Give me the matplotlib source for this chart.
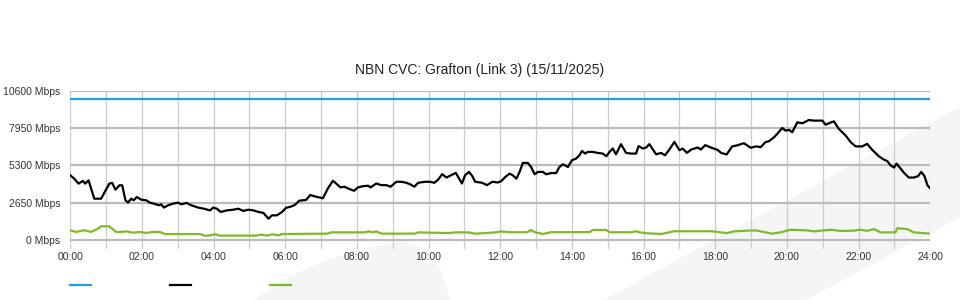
import matplotlib
matplotlib.use("Agg")
import matplotlib.pyplot as plt
from matplotlib.lines import Line2D
from matplotlib.patches import Polygon

plt.rcParams["font.family"] = ["Liberation Sans", "DejaVu Sans"]

title = "NBN CVC: Grafton (Link 3) (15/11/2025)"

# capacity line (Mbps)
capacity_hours = [0, 24]
capacity_mbps = [10000, 10000]

# black series: hours of day, Mbps
black_hours = [
    0.0, 0.11, 0.23, 0.35, 0.42, 0.51, 0.67, 0.86, 1.09, 1.17, 1.26, 1.37, 1.45,
    1.54, 1.61, 1.70, 1.77, 1.86, 1.98, 2.12, 2.22, 2.33, 2.48, 2.54, 2.61, 2.73,
    2.87, 3.01, 3.10, 3.24, 3.38, 3.57, 3.73, 3.90, 3.99, 4.09, 4.20, 4.37, 4.55,
    4.69, 4.83, 4.97, 5.11, 5.25, 5.39, 5.53, 5.63, 5.77, 5.91, 6.02, 6.16, 6.27,
    6.39, 6.58, 6.70, 6.86, 7.05, 7.19, 7.33, 7.42, 7.54, 7.65, 7.75, 7.92, 8.03,
    8.17, 8.31, 8.38, 8.54, 8.68, 8.82, 8.94, 9.10, 9.24, 9.38, 9.48, 9.60, 9.71,
    9.90, 10.04, 10.16, 10.27, 10.38, 10.50, 10.63, 10.76, 10.85, 10.93, 11.02,
    11.13, 11.22, 11.30, 11.49, 11.63, 11.78, 11.93, 12.03, 12.14, 12.26, 12.35,
    12.45, 12.54, 12.63, 12.77, 12.86, 12.96, 13.05, 13.19, 13.28, 13.42, 13.56,
    13.65, 13.75, 13.89, 14.00, 14.12, 14.21, 14.28, 14.37, 14.44, 14.58, 14.72,
    14.86, 14.96, 15.05, 15.14, 15.23, 15.37, 15.51, 15.65, 15.79, 15.86, 15.98,
    16.07, 16.16, 16.26, 16.35, 16.49, 16.60, 16.72, 16.86, 17.00, 17.09, 17.21,
    17.33, 17.51, 17.60, 17.72, 17.88, 18.06, 18.17, 18.32, 18.47, 18.61, 18.80,
    18.99, 19.13, 19.27, 19.40, 19.50, 19.64, 19.73, 19.87, 19.96, 20.06, 20.15,
    20.29, 20.43, 20.61, 20.75, 20.99, 21.08, 21.17, 21.31, 21.45, 21.64, 21.78,
    21.92, 22.10, 22.24, 22.38, 22.57, 22.71, 22.80, 22.89, 22.99, 23.06, 23.17,
    23.27, 23.40, 23.54, 23.66, 23.75, 23.84, 23.92, 24.0,
]
black_mbps = [
    4590, 4350, 4000, 4190, 4000, 4230, 2930, 2930, 4000, 4050, 3570, 3880, 3880,
    2820, 2650, 2930, 2820, 3050, 2860, 2820, 2650, 2580, 2460, 2530, 2300, 2460,
    2580, 2650, 2530, 2630, 2460, 2300, 2220, 2100, 2300, 2220, 1990, 2100, 2150,
    2220, 2060, 2150, 2100, 1990, 1920, 1510, 1750, 1750, 1990, 2280, 2370, 2490,
    2790, 2840, 3190, 3070, 2960, 3660, 4200, 4010, 3730, 3780, 3660, 3490, 3730,
    3820, 3850, 3730, 4010, 3890, 3890, 3780, 4130, 4130, 4060, 3960, 3780, 4060,
    4130, 4130, 4060, 4290, 4670, 4430, 4600, 4760, 4360, 4010, 4600,
    4830, 4530, 4130, 4060, 3890, 4130, 4080, 4180, 4470, 4710, 4590,
    4350, 4830, 5470, 5470, 5180, 4660, 4830, 4830, 4660, 4750, 4750,
    5180, 5370, 5180, 5660, 5780, 6010, 6320, 6130, 6250, 6250, 6180,
    6130, 5940, 6250, 6490, 6080, 6800, 6180, 6130, 6130, 6660, 6490,
    6560, 6800, 6420, 6080, 6180, 6010, 6420, 6960, 6370, 6490, 6180,
    6420, 6560, 6420, 6730, 6560, 6400, 6170, 6070, 6640, 6710, 6870,
    6540, 6640, 6590, 6940, 7010, 7290, 7530, 7950, 7760, 7810, 7650,
    8350, 8280, 8510, 8470, 8470, 8180, 8280, 8420, 7880, 7410, 6940,
    6640, 6640, 6820, 6400, 5930, 5700, 5600, 5300, 5140, 5420, 5070,
    4760, 4430, 4430, 4530, 4830, 4530, 3890, 3660,
]

# green series: hours of day, Mbps
green_hours = [
    0.0, 0.16, 0.39, 0.58, 0.77, 0.86, 1.09, 1.28, 1.42, 1.56, 1.75, 1.94, 2.12,
    2.31, 2.50, 2.64, 3.62, 3.76, 3.90, 4.04, 4.18, 5.21, 5.30, 5.49, 5.63, 5.81,
    5.91, 7.19, 7.28, 8.21, 8.33, 8.45, 8.54, 8.68, 9.62, 9.71, 10.55, 10.74,
    11.11, 11.30, 11.58, 11.86, 12.03, 12.30, 12.75, 12.86, 12.96, 13.19, 13.42,
    14.50, 14.58, 14.96, 15.05, 15.65, 15.79, 15.88, 16.07, 16.50, 16.86, 17.90,
    18.15, 18.33, 18.52, 18.89, 19.13, 19.27, 19.59, 19.82, 20.10, 20.57, 20.75,
    21.03, 21.22, 21.50, 21.87, 22.05, 22.24, 22.43, 22.62, 23.03, 23.08, 23.36,
    23.54, 24.0,
]
green_mbps = [
    690, 570, 690, 570, 800, 970, 970, 570, 570, 610, 520, 570, 500,
    570, 570, 420, 420, 300, 330, 400, 310, 310, 380, 310, 400, 330,
    420, 450, 540, 540, 610, 540, 610, 450, 450, 540, 490, 540,
    540, 450, 490, 540, 600, 550, 550, 710, 550, 430, 550,
    560, 710, 710, 550, 550, 620, 550, 480, 430, 620, 620,
    540, 490, 610, 660, 680, 610, 450, 540, 730, 680, 610,
    680, 730, 640, 660, 730, 650, 770, 540, 540, 840, 770,
    540, 450,
]

fig = plt.figure(figsize=(9.6, 3.0), dpi=100)
fig.patch.set_facecolor("white")

# faint background shapes, behind the axes
shade = "#f4f5f7"
band = [(603, 300), (960, 107), (960, 217), (806, 300)]
blob = [(253, 300), (290, 276), (320, 263), (360, 249), (403, 241), (425, 249),
        (440, 268), (450, 300)]
for pts in (band, blob):
    fig.patches.append(Polygon([(x / 960, 1 - y / 300) for x, y in pts],
                               closed=True, transform=fig.transFigure,
                               facecolor=shade, edgecolor="none", zorder=-5))

ax = fig.add_axes([0.0732, 0.17, 0.8958, 0.528])
ax.set_facecolor("none")
ax.set_zorder(1)

ax.plot(capacity_hours, capacity_mbps, color="#1ba1e2", lw=1.6, zorder=3)
ax.plot(black_hours, black_mbps, color="black", lw=1.6, zorder=4)
ax.plot(green_hours, green_mbps, color="#7cbd1e", lw=1.6, zorder=3)

ax.set_xlim(0, 24)
ax.set_ylim(-640, 10600)
ax.set_xticks(range(0, 25, 2))
ax.set_xticklabels(["%02d:00" % h for h in range(0, 25, 2)])
ax.set_xticks(range(0, 25), minor=True)
yt = [0, 2650, 5300, 7950, 10600]
ax.set_yticks(yt)
ax.set_yticklabels(["%d Mbps" % v for v in yt])

for s in ax.spines.values():
    s.set_visible(False)
ax.tick_params(axis="both", which="both", length=0, labelsize=7.5, colors="#333333")
ax.tick_params(axis="y", pad=7)
ax.tick_params(axis="x", pad=2)
ax.grid(axis="x", which="both", color="#cccccc", lw=0.9, zorder=1)
ax.grid(axis="y", which="major", color="#bbbbbb", lw=1.6, zorder=1)

fig.text(0.5, 0.767, title, ha="center", va="center", fontsize=10, color="#222222")

# legend swatches (no labels in the original)
for x0, c in [(70, "#1ba1e2"), (170, "black"), (270, "#7cbd1e")]:
    fig.lines.append(Line2D([x0 / 960, (x0 + 21) / 960], [1 - 285 / 300] * 2,
                            transform=fig.transFigure, color=c, lw=1.6))

plt.savefig("out.png", dpi=100)
